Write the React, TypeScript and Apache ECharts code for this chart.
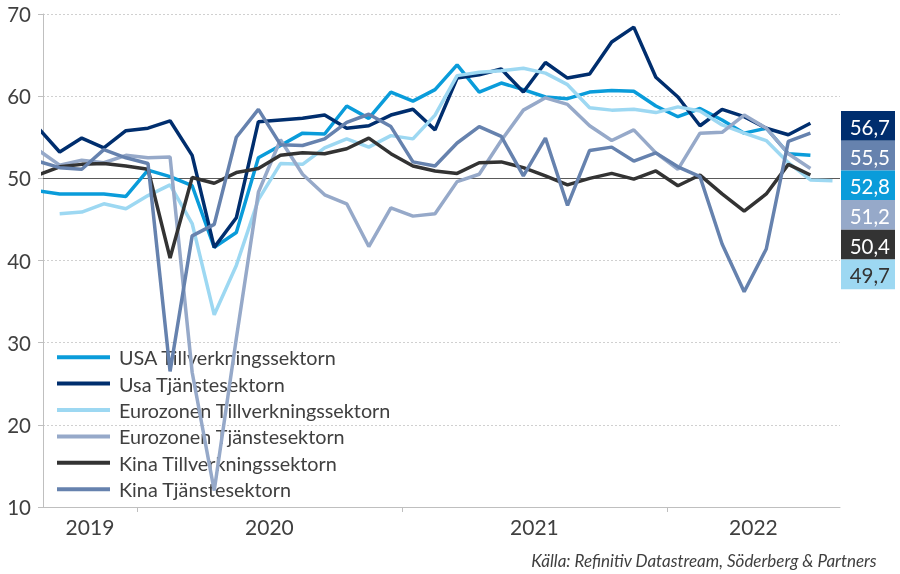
import React, { useEffect, useRef } from "react";
import * as echarts from "echarts";

// ---------- DATA ----------
const months = [
  "2019-08", "2019-09", "2019-10", "2019-11", "2019-12",
  "2020-01", "2020-02", "2020-03", "2020-04", "2020-05", "2020-06",
  "2020-07", "2020-08", "2020-09", "2020-10", "2020-11", "2020-12",
  "2021-01", "2021-02", "2021-03", "2021-04", "2021-05", "2021-06",
  "2021-07", "2021-08", "2021-09", "2021-10", "2021-11", "2021-12",
  "2022-01", "2022-02", "2022-03", "2022-04", "2022-05", "2022-06",
  "2022-07", "2022-08",
];

const years = ["2019", "2020", "2021", "2022"];

const seriesNames = [
  "USA Tillverkningssektorn",
  "Usa Tjänstesektorn",
  "Eurozonen Tillverkningssektorn",
  "Eurozonen Tjänstesektorn",
  "Kina Tillverkningssektorn",
  "Kina Tjänstesektorn",
];

const usaMfg = [
  48.5, 48.1, 48.1, 48.1, 47.8,
  51.0, 50.2, 49.1, 41.6, 43.4, 52.5, 54.0, 55.5, 55.4, 58.8, 57.3, 60.5,
  59.4, 60.8, 63.8, 60.5, 61.6, 60.8, 59.9, 59.7, 60.5, 60.7, 60.6, 58.8,
  57.5, 58.5, 57.1, 55.5, 56.1, 53.0, 52.8, null,
];

const usaSvc = [
  56.2, 53.2, 54.9, 53.7, 55.8,
  56.1, 57.0, 52.8, 41.6, 45.2, 56.9, 57.1, 57.3, 57.7, 56.1, 56.4, 57.7,
  58.4, 55.9, 62.2, 62.6, 63.3, 60.5, 64.1, 62.2, 62.7, 66.6, 68.4, 62.3,
  59.9, 56.4, 58.4, 57.5, 56.1, 55.3, 56.7, null,
];

const eurMfg = [
  null, 45.7, 45.9, 46.9, 46.3,
  47.9, 49.2, 44.5, 33.4, 39.4, 47.4, 51.8, 51.7, 53.7, 54.8, 53.8, 55.2,
  54.8, 57.7, 62.5, 62.9, 63.1, 63.4, 62.8, 61.4, 58.6, 58.3, 58.4, 58.0,
  58.7, 58.2, 56.5, 55.5, 54.6, 51.9, 49.8, 49.7,
];

const eurSvc = [
  53.5, 51.6, 52.2, 51.9, 52.8,
  52.5, 52.6, 26.4, 12.0, 30.5, 48.3, 54.7, 50.5, 48.0, 46.9, 41.7, 46.4,
  45.4, 45.7, 49.6, 50.5, 54.6, 58.3, 59.8, 59.0, 56.4, 54.6, 55.9, 53.1,
  51.1, 55.5, 55.6, 57.7, 56.1, 53.0, 51.2, null,
];

const chnMfg = [
  50.4, 51.4, 51.7, 51.8, 51.5,
  51.1, 40.3, 50.1, 49.4, 50.7, 51.2, 52.8, 53.1, 53.0, 53.6, 54.9, 53.0,
  51.5, 50.9, 50.6, 51.9, 52.0, 51.3, 50.3, 49.2, 50.0, 50.6, 49.9, 50.9,
  49.1, 50.4, 48.1, 46.0, 48.1, 51.7, 50.4, null,
];

const chnSvc = [
  52.1, 51.3, 51.1, 53.5, 52.5,
  51.8, 26.5, 43.0, 44.4, 55.0, 58.4, 54.1, 54.0, 54.8, 56.8, 57.8, 56.3,
  52.0, 51.5, 54.3, 56.3, 55.1, 50.3, 54.9, 46.7, 53.4, 53.8, 52.1, 53.1,
  51.4, 50.2, 42.0, 36.2, 41.4, 54.5, 55.5, null,
];

const yTicks = { min: 10, max: 70, step: 10 };
const sourceText = "Källa: Refinitiv Datastream, Söderberg & Partners";

// ---------- STYLE ----------
const lineColors = ["#0A9CDA", "#002E6E", "#9DD8F2", "#96A9C9", "#333333", "#6682AE"];
const boxTextColors = ["#FFFFFF", "#FFFFFF", "#333333", "#FFFFFF", "#FFFFFF", "#FFFFFF"];
const FONT = "Lato, 'Open Sans', sans-serif";
const TEXT = "#404040";
const AXIS = "#BFBFBF";

const X_MIN = 7.245;
const X_MAX = 43.34;

const monthIndex = (m: string) => {
  const [y, mo] = m.split("-").map(Number);
  return (y - Number(years[0])) * 12 + (mo - 1);
};

export default function App() {
  const ref = useRef<HTMLDivElement>(null);

  useEffect(() => {
    if (!ref.current) return;
    const chart = echarts.init(ref.current, undefined, { renderer: "svg" });

    const allData = [usaMfg, usaSvc, eurMfg, eurSvc, chnMfg, chnSvc];

    const series: any[] = allData.map((arr, si) => ({
      name: seriesNames[si],
      type: "line",
      data: months
        .map((m, i) => [monthIndex(m), arr[i]])
        .filter((p) => p[1] !== null),
      showSymbol: false,
      symbol: "none",
      clip: true,
      lineStyle: { color: lineColors[si], width: 3.5 },
      itemStyle: { color: lineColors[si] },
      z: 2 + si,
      markLine:
        si === 0
          ? {
              silent: true,
              symbol: "none",
              z: 1,
              label: { show: false },
              lineStyle: { color: "#5A5A5A", type: "solid", width: 1.2 },
              data: [{ yAxis: 50 }],
            }
          : undefined,
    }));

    const lastVals = allData
      .map((arr, si) => {
        let v: number | null = null;
        for (const x of arr) if (x !== null) v = x as number;
        return { v: v as number, color: lineColors[si], textColor: boxTextColors[si] };
      })
      .sort((a, b) => b.v - a.v);

    const BOX_X = 841;
    const BOX_W = 54;
    const BOX_TOP = 111;
    const BOX_H = 29.7;

    const boxes = lastVals.map((d, i) => ({
      type: "group",
      children: [
        {
          type: "rect",
          shape: { x: BOX_X, y: BOX_TOP + i * BOX_H, width: BOX_W, height: BOX_H },
          style: { fill: d.color },
          silent: true,
        },
        {
          type: "text",
          x: BOX_X + BOX_W - 5,
          y: BOX_TOP + i * BOX_H + BOX_H / 2 + 1,
          style: {
            text: d.v.toFixed(1).replace(".", ","),
            fill: d.textColor,
            font: `20.5px ${FONT}`,
            textAlign: "right",
            textVerticalAlign: "middle",
          },
          silent: true,
        },
      ],
    }));

    const yearCenters = years.map((_, i) => {
      const s = Math.max(X_MIN, i * 12 - 0.5);
      const e = Math.min(X_MAX, i * 12 + 11.5);
      return (s + e) / 2;
    });
    const yearBounds = years.slice(1).map((_, i) => (i + 1) * 12 - 0.5);

    chart.setOption({
      animation: false,
      textStyle: { fontFamily: FONT },
      grid: { left: 43, right: 60, top: 14, bottom: 67 },
      xAxis: {
        type: "value",
        min: X_MIN,
        max: X_MAX,
        axisLine: { show: true, lineStyle: { color: AXIS, width: 1 } },
        axisTick: {
          show: true,
          customValues: yearBounds,
          length: 5,
          lineStyle: { color: AXIS },
        },
        axisLabel: {
          customValues: yearCenters,
          formatter: (v: number) => years[Math.floor((v + 0.5) / 12)] ?? "",
          fontSize: 21,
          color: TEXT,
          fontFamily: FONT,
          margin: 9,
        },
        splitLine: { show: false },
      },
      yAxis: {
        type: "value",
        min: yTicks.min,
        max: yTicks.max,
        interval: yTicks.step,
        axisLine: { show: true, lineStyle: { color: AXIS, width: 1 } },
        axisTick: { show: true, length: 5, lineStyle: { color: AXIS } },
        axisLabel: { fontSize: 20.5, color: TEXT, fontFamily: FONT, margin: 12 },
        splitLine: { show: true, lineStyle: { color: "#D0D0D0", type: [2, 2], width: 1 } },
      },
      legend: {
        orient: "vertical",
        left: 57,
        top: 346,
        icon: "rect",
        itemWidth: 53,
        itemHeight: 4,
        itemGap: 4,
        padding: 0,
        textStyle: {
          fontSize: 19.8,
          color: TEXT,
          fontFamily: FONT,
          lineHeight: 22.4,
          padding: [0, 0, 0, 4],
        },
        data: seriesNames,
      },
      graphic: [
        ...boxes,
        {
          type: "text",
          right: 23,
          top: 552,
          style: {
            text: sourceText,
            font: `italic 17px ${FONT}`,
            fill: TEXT,
          },
          silent: true,
        },
      ],
      series,
    });

    return () => chart.dispose();
  }, []);

  return (
    <div
      ref={ref}
      style={{ position: "fixed", left: 0, top: 0, width: 900, height: 574 }}
    />
  );
}
